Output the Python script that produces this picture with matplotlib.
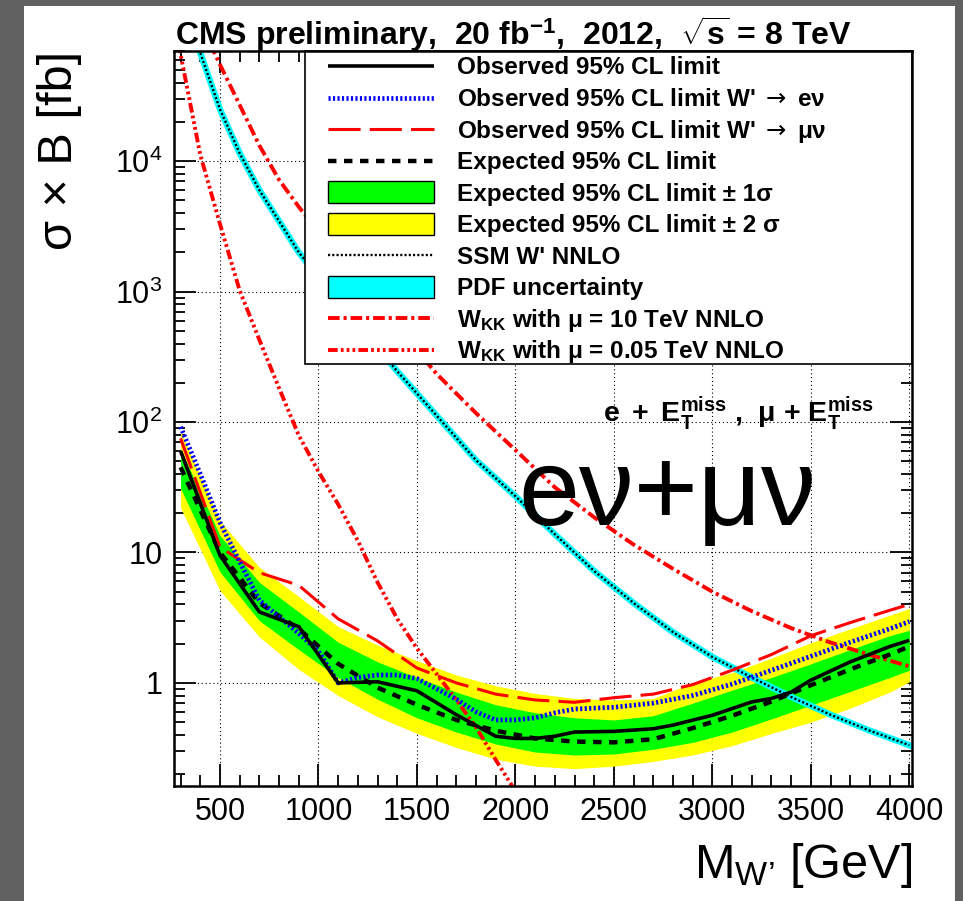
import numpy as np
import matplotlib
matplotlib.use('Agg')
import matplotlib.pyplot as plt
from matplotlib.patches import Rectangle
from matplotlib.ticker import FixedLocator, FixedFormatter, MultipleLocator, LogLocator, NullFormatter

plt.rcParams['font.family'] = ['Liberation Sans', 'DejaVu Sans']
plt.rcParams['mathtext.fontset'] = 'custom'
plt.rcParams['mathtext.rm'] = 'Liberation Sans'
plt.rcParams['mathtext.it'] = 'Liberation Sans:italic'
plt.rcParams['mathtext.bf'] = 'Liberation Sans:bold'
plt.rcParams['mathtext.sf'] = 'DejaVu Sans'

# expected limit and bands (fb)
mass_exp = [300, 500, 700, 900, 1100, 1300, 1500, 1700, 1900, 2100, 2300, 2500,
            2700, 2900, 3100, 3300, 3500, 3700, 3900, 4000]
exp_lim = [45, 10, 4.1, 2.6, 1.4, 0.92, 0.68, 0.52, 0.43, 0.375, 0.355, 0.35,
           0.37, 0.45, 0.56, 0.72, 0.96, 1.27, 1.65, 1.9]
exp_2lo = [22, 5.1, 2.25, 1.27, 0.8, 0.55, 0.41, 0.32, 0.26, 0.23, 0.22, 0.23,
           0.25, 0.28, 0.33, 0.41, 0.50, 0.64, 0.85, 1.02]
exp_1lo = [31, 7.1, 3.0, 1.8, 1.1, 0.75, 0.54, 0.42, 0.34, 0.295, 0.28, 0.285,
           0.31, 0.35, 0.42, 0.53, 0.675, 0.86, 1.1, 1.25]
exp_1hi = [62, 13.5, 5.9, 3.5, 2.05, 1.45, 1.1, 0.85, 0.68, 0.59, 0.54, 0.52,
           0.56, 0.7, 0.88, 1.1, 1.4, 1.8, 2.3, 2.53]
exp_2hi = [85, 17.5, 7.7, 4.6, 2.7, 1.95, 1.48, 1.15, 0.95, 0.83, 0.76, 0.74,
           0.76, 1.0, 1.2, 1.55, 2.03, 2.6, 3.3, 3.72]

# observed combined
mass_obs = [300, 500, 700, 900, 1100, 1300, 1500, 1700, 1900, 2000, 2100, 2200,
            2300, 2500, 2700, 2800, 3000, 3200, 3300, 3400, 3500, 3700, 3900, 4000]
obs_lim = [60, 9.5, 3.5, 2.7, 1.0, 1.02, 0.87, 0.57, 0.39, 0.375, 0.375, 0.39,
           0.42, 0.425, 0.445, 0.475, 0.565, 0.715, 0.76, 0.85, 1.05, 1.45, 1.9, 2.12]

# observed electron channel
mass_ev = [300, 400, 500, 600, 700, 800, 900, 1000, 1100, 1200, 1300, 1400, 1500,
           1600, 1700, 1800, 1900, 2000, 2100, 2200, 2300, 2500, 2700, 2900, 3100,
           3300, 3500, 3700, 3900, 4000]
obs_ev = [92, 40, 17, 8.5, 4.3, 3.2, 2.4, 1.75, 1.0, 1.1, 1.15, 1.15, 1.08,
          0.9, 0.75, 0.6, 0.52, 0.52, 0.54, 0.59, 0.63, 0.65, 0.7, 0.8, 0.98,
          1.25, 1.6, 2.05, 2.6, 2.95]

# observed muon channel
mass_mv = [300, 500, 700, 900, 1100, 1300, 1500, 1700, 1900, 2100, 2300, 2500,
           2700, 2900, 3100, 3300, 3500, 3700, 3900, 4000]
obs_mv = [75, 11, 7.0, 5.6, 3.1, 2.1, 1.3, 1.0, 0.82, 0.74, 0.71, 0.77,
          0.82, 0.97, 1.25, 1.65, 2.3, 2.9, 3.6, 4.0]

# SSM W' NNLO
mass_ssm = [400, 500, 600, 700, 800, 900, 1000, 1200, 1400, 1600, 1800, 2000,
            2200, 2400, 2600, 2800, 3000, 3200, 3400, 3600, 3800, 4000]
xs_ssm = [67600, 25000, 11500, 6000, 3470, 2000, 1290, 560, 245, 112, 51, 27,
          13.8, 7.2, 4.1, 2.45, 1.58, 1.10, 0.78, 0.57, 0.43, 0.333]

# W_KK, mu = 10 TeV
mass_kk10 = [450, 500, 600, 700, 800, 900, 1000, 1200, 1400, 1600, 1800, 2000,
             2200, 2400, 2600, 2800, 3000, 3200, 3400, 3600, 3800, 4000]
xs_kk10 = [80000, 55000, 27000, 13200, 7200, 4470, 2880, 1260, 537, 234, 117, 61,
           31.6, 18.6, 11.5, 7.5, 5.0, 3.55, 2.63, 2.04, 1.64, 1.34]

# W_KK, mu = 0.05 TeV
mass_kk005 = [290, 300, 400, 500, 600, 700, 800, 900, 1000, 1100, 1200, 1300,
              1400, 1500, 1600, 1700, 1800, 1900, 2000]
xs_kk005 = [80000, 66000, 11200, 3300, 1020, 427, 182, 79, 41.7, 23.4, 12.3, 5.9,
            3.1, 1.84, 1.17, 0.74, 0.457, 0.257, 0.148]

y_ticks = [1, 10, 100, 1000, 10000]
y_labels = ['1', '10', r'$\mathregular{10^{2}}$', r'$\mathregular{10^{3}}$', r'$\mathregular{10^{4}}$']

obs_style = dict(color='black', lw=2.6, solid_capstyle='butt')
ev_style = dict(color='#0000ff', lw=3.4, linestyle=(0, (0.45, 0.5)), dash_capstyle='butt')
mv_style = dict(color='#ff0000', lw=2.2, linestyle=(0, (10.5, 3.0)))
exp_style = dict(color='black', lw=3.2, linestyle=(0, (1.9, 1.7)), dash_capstyle='butt')
ssm_style = dict(color='black', lw=1.7, linestyle=(0, (0.9, 0.9)), dash_capstyle='butt')
kk10_style = dict(color='#ff0000', lw=2.8, linestyle=(0, (3.0, 1.0, 0.8, 1.0)), dash_capstyle='butt')
kk005_style = dict(color='#ff0000', lw=2.8,
                   linestyle=(0, (2.5, 0.8, 0.7, 0.8, 0.7, 0.8, 0.7, 0.8)), dash_capstyle='butt')

W, H = 963, 901
fig = plt.figure(figsize=(W / 100, H / 100), dpi=100)
fig.patch.set_facecolor('#606060')
fig.add_artist(Rectangle((24 / W, 0), 931 / W, 895 / H, transform=fig.transFigure,
                         facecolor='white', edgecolor='none', zorder=-5))

# axes frame in pixels: x 173.5..912.3, y 51..786
ax = fig.add_axes([173.5 / W, (H - 786) / H, 738.8 / W, 735 / H])


def axp(px, py):
    # pixel position -> axes fraction
    return (px - 173.5) / 738.8, (786 - py) / 735


ax.fill_between(mass_exp, exp_2lo, exp_2hi, color='#ffff00', lw=0, zorder=2)
ax.fill_between(mass_exp, exp_1lo, exp_1hi, color='#00ff00', lw=0, zorder=3)
ax.plot(mass_ssm, xs_ssm, color='#00ffff', lw=4.6, zorder=4)
ax.plot(mass_ssm, xs_ssm, zorder=4.1, **ssm_style)
ax.plot(mass_kk10, xs_kk10, zorder=4.2, **kk10_style)
ax.plot(mass_kk005, xs_kk005, zorder=4.2, **kk005_style)
ax.plot(mass_exp, exp_lim, zorder=5, **exp_style)
ax.plot(mass_mv, obs_mv, zorder=5.1, **mv_style)
ax.plot(mass_ev, obs_ev, zorder=5.2, **ev_style)
ax.plot(mass_obs, obs_lim, zorder=5.3, **obs_style)

ax.set_yscale('log')
ax.set_xlim(264, 4015)
ax.set_ylim(0.162, 7.0e4)
ax.xaxis.set_major_locator(MultipleLocator(500))
ax.xaxis.set_minor_locator(MultipleLocator(100))
ax.yaxis.set_major_locator(FixedLocator(y_ticks))
ax.yaxis.set_major_formatter(FixedFormatter(y_labels))
ax.yaxis.set_minor_locator(LogLocator(base=10, subs=np.arange(2, 10)))
ax.yaxis.set_minor_formatter(NullFormatter())
ax.tick_params(which='both', direction='in', top=True, right=True, width=1.3,
               labelsize=22, pad=8)
ax.tick_params(which='major', length=16)
ax.tick_params(which='minor', length=8)
for s in ax.spines.values():
    s.set_linewidth(1.8)
    s.set_zorder(20)
ax.grid(True, which='major', color='black', lw=0.8, linestyle=(0, (1, 2.5)))
ax.set_axisbelow(True)

# titles and labels
x, y = axp(175, 45)
ax.text(x, y, r"CMS preliminary,  20 fb$^{\mathbf{-1}}$,  2012,  $\sqrt{\mathbf{s}}$ = 8 TeV",
        transform=ax.transAxes, ha='left', va='baseline', fontsize=23, fontweight='bold')
x, y = axp(912, 878)
ax.text(x, y, r"$\mathregular{M_{W’}}$ [GeV]", transform=ax.transAxes,
        ha='right', va='baseline', fontsize=35)
x, y = axp(60, 150)
ax.text(x, y, "σ × B [fb]", transform=ax.transAxes, rotation=90,
        ha='center', va='center', fontsize=35)
x, y = axp(603, 422)
ax.text(x, y, r"$\mathbf{e\ +\ E_{T}^{miss}}$ ,  μ + $\mathbf{E_{T}^{miss}}$",
        transform=ax.transAxes, ha='left', va='baseline', fontsize=20.5,
        fontweight='bold', zorder=12)
x, y = axp(518, 525)
ax.text(x, y, "eν+μν", transform=ax.transAxes, ha='left', va='baseline',
        fontsize=79, zorder=12)

# legend box drawn by hand
x0, y0 = axp(305, 364)
ax.add_patch(Rectangle((x0, y0), 1 - x0, 1 - y0, transform=ax.transAxes,
                       facecolor='white', edgecolor='black', lw=1.2, zorder=10,
                       clip_on=False))

entries = [
    ('line', obs_style, "Observed 95% CL limit"),
    ('line', ev_style, r"Observed 95% CL limit W' $\mathsf{\rightarrow}$ eν"),
    ('line', mv_style, r"Observed 95% CL limit W' $\mathsf{\rightarrow}$ μν"),
    ('line', exp_style, "Expected 95% CL limit"),
    ('box', '#00ff00', "Expected 95% CL limit ± 1σ"),
    ('box', '#ffff00', "Expected 95% CL limit ± 2 σ"),
    ('line', ssm_style, "SSM W' NNLO"),
    ('box', '#00ffff', "PDF uncertainty"),
    ('line', kk10_style, r"$\mathbf{W_{KK}}$ with μ = 10 TeV NNLO"),
    ('line', kk005_style, r"$\mathbf{W_{KK}}$ with μ = 0.05 TeV NNLO"),
]
for i, (kind, style, label) in enumerate(entries):
    py = 66 + 31.55 * i
    xa, ya = axp(328, py)
    xb, _ = axp(434, py)
    if kind == 'line':
        ax.plot([xa, xb], [ya, ya], transform=ax.transAxes, clip_on=False,
                zorder=11, **style)
    else:
        _, yl = axp(328, py + 11)
        _, yh = axp(328, py - 11)
        ax.add_patch(Rectangle((xa, yl), xb - xa, yh - yl, transform=ax.transAxes,
                               facecolor=style, edgecolor='black', lw=1.0,
                               zorder=11, clip_on=False))
    xt, yt = axp(457, py + 8.5)
    ax.text(xt, yt, label, transform=ax.transAxes, ha='left', va='baseline',
            fontsize=17.5, fontweight='bold', zorder=12)

fig.savefig('out.png', dpi=100, facecolor=fig.get_facecolor())
